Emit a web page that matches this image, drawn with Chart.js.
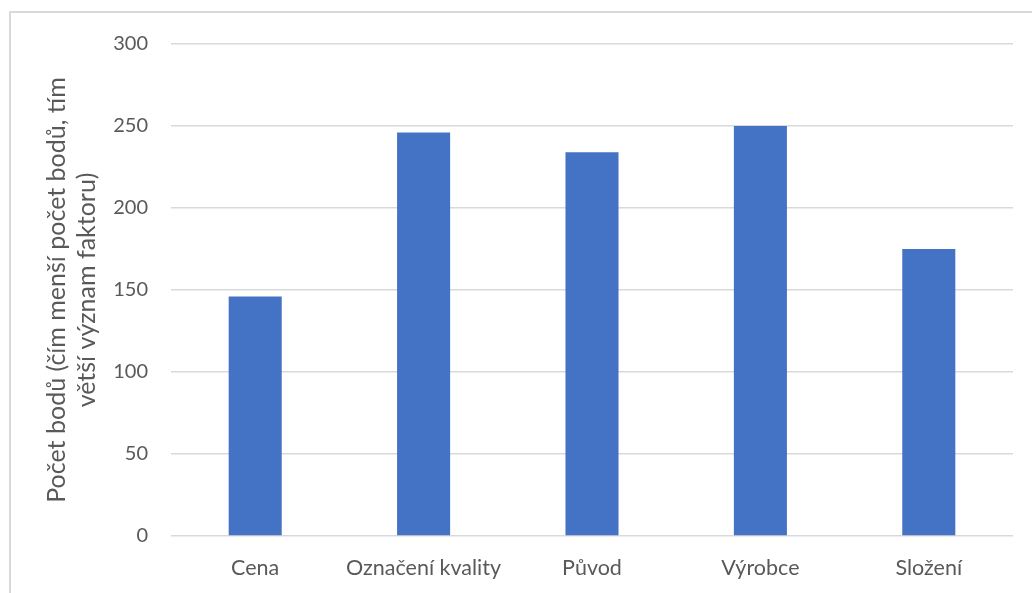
<!DOCTYPE html>
<html>
<head>
<meta charset="utf-8">
<script src="https://cdn.jsdelivr.net/npm/chart.js@4/dist/chart.umd.min.js"></script>
<style>
  html, body { margin: 0; padding: 0; background: #fff; overflow: hidden; }
  #wrap { position: relative; width: 1032px; height: 593px; overflow: hidden; }
  #frame { position: absolute; left: 9px; top: 11px; width: 1100px; height: 700px; border: 2px solid #d9d9d9; box-sizing: border-box; }
  #chart { position: absolute; left: 0; top: 0; }
</style>
</head>
<body>
<div id="wrap">
  <div id="frame"></div>
  <canvas id="chart" width="1032" height="593"></canvas>
</div>
<script>
// ─── data ───────────────────────────────────────────────
const categories = ['Cena', 'Označení kvality', 'Původ', 'Výrobce', 'Složení'];
const points = [146, 246, 234, 250, 175];
const yTicks = [0, 50, 100, 150, 200, 250, 300];
const yTitle = ['Počet bodů (čím menší počet bodů, tím', 'větší význam faktoru)'];

const FONT = 'Lato, "Open Sans", sans-serif';
const GREY = '#595959';
const GRID = '#d9d9d9';

function initBarChart() {
  const ctx = document.getElementById('chart').getContext('2d');
  new Chart(ctx, {
    type: 'bar',
    data: {
      labels: categories,
      datasets: [{
        data: points,
        backgroundColor: '#4472c4',
        borderWidth: 0,
        barPercentage: 1,
        categoryPercentage: 0.315,
      }]
    },
    options: {
      responsive: false,
      animation: false,
      layout: { padding: { left: 0, top: 44, right: 19, bottom: 0 } },
      plugins: {
        legend: { display: false },
        tooltip: { enabled: false }
      },
      scales: {
        y: {
          min: 0,
          max: 300,
          afterBuildTicks: s => { s.ticks = yTicks.map(v => ({ value: v })); },
          afterFit: s => { s.width = 171; },
          grid: { color: GRID, lineWidth: 1.5, drawTicks: false },
          border: { display: false },
          ticks: { color: GREY, padding: 23, font: { family: FONT, size: 20 } },
          title: {
            display: true,
            text: yTitle,
            color: GREY,
            padding: { top: 42, bottom: 0 },
            font: { family: FONT, size: 25, lineHeight: 1.2 }
          }
        },
        x: {
          afterFit: s => { s.height = 57; },
          grid: { display: false, drawTicks: false },
          border: { display: false },
          ticks: { color: GREY, padding: 19, maxRotation: 0, font: { family: FONT, size: 21.5 } }
        }
      }
    }
  });
}

document.addEventListener('DOMContentLoaded', initBarChart);
</script>
</body>
</html>
